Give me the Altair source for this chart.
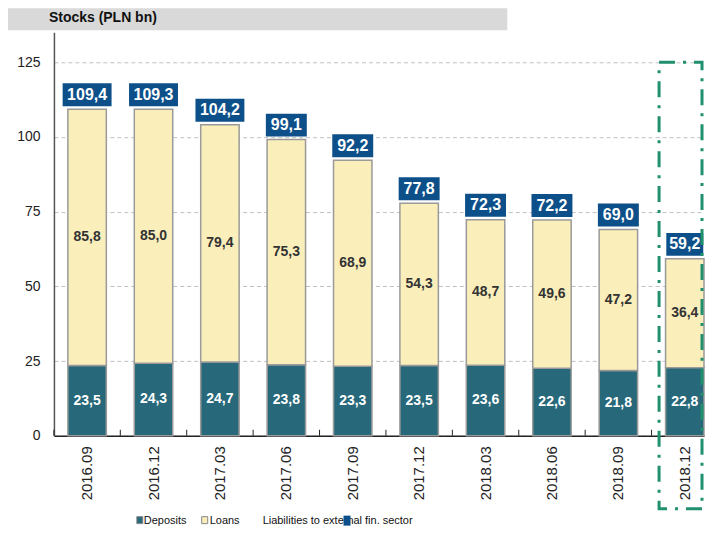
import altair as alt
import pandas as pd

dates = ["2016.09", "2016.12", "2017.03", "2017.06", "2017.09",
         "2017.12", "2018.03", "2018.06", "2018.09", "2018.12"]
deposits = [23.5, 24.3, 24.7, 23.8, 23.3, 23.5, 23.6, 22.6, 21.8, 22.8]
loans = [85.8, 85.0, 79.4, 75.3, 68.9, 54.3, 48.7, 49.6, 47.2, 36.4]
totals = [109.4, 109.3, 104.2, 99.1, 92.2, 77.8, 72.3, 72.2, 69.0, 59.2]
y_ticks = [0, 25, 50, 75, 100, 125]
legend_labels = ["Deposits", "Loans", "Liabilities to external fin. sector"]
title_text = "Stocks (PLN bn)"
last_date = dates[-1]


def fmt(v):
    return f"{v:.1f}".replace(".", ",")


df = pd.DataFrame({
    "date": dates,
    "dep": deposits,
    "loan": loans,
    "total": totals,
})
df["top"] = df["dep"] + df["loan"]
df["dep_mid"] = df["dep"] / 2
df["loan_mid"] = (df["dep"] + df["top"]) / 2
df["dep_lbl"] = df["dep"].map(fmt)
df["loan_lbl"] = df["loan"].map(fmt)
df["tot_lbl"] = df["total"].map(fmt)

DEP_C = "#27697a"
LOAN_C = "#faeebb"
TOT_C = "#0d4f88"
GREEN = "#21906f"
SANS = "Liberation Sans"

xscale = alt.Scale(paddingInner=0.421, paddingOuter=0.105, align=1)
yscale = alt.Scale(domain=[0, 135], nice=False)

X = alt.X("date:N", scale=xscale, sort=dates,
          axis=alt.Axis(title=None, labelAngle=270, labelFontSize=15,
                        labelFont=SANS, labelColor="#222", ticks=False,
                        domainColor="#222", domainWidth=1.5, labelPadding=10,
                        labelAlign="right", labelBaseline="middle"))
Y = alt.Y("dep:Q", scale=yscale,
          axis=alt.Axis(title=None, values=y_ticks, labelFontSize=14,
                        labelFont=SANS, labelColor="#222", ticks=False,
                        labelPadding=14, domainColor="#555", domainWidth=1.5,
                        grid=True, gridDash=[4, 3], gridColor="#c0c0c0",
                        gridWidth=1))

base = alt.Chart(df)
XS = alt.X("date:N", sort=dates)

dep_bar = base.mark_bar(color=DEP_C, stroke="#9a9a9a", strokeWidth=1.5).encode(
    x=X, y=Y)
loan_bar = base.mark_bar(color=LOAN_C, stroke="#9a9a9a", strokeWidth=1.5).encode(
    x=XS, y=alt.Y("top:Q"), y2="dep:Q")

dep_txt = base.mark_text(color="white", fontWeight="bold", fontSize=14,
                         font=SANS, baseline="middle").encode(
    x=XS, y="dep_mid:Q", text="dep_lbl:N")
loan_txt = base.mark_text(color="#333333", fontWeight="bold", fontSize=14,
                          font=SANS, baseline="middle").encode(
    x=XS, y="loan_mid:Q", text="loan_lbl:N")


def box(width, cond):
    return base.transform_filter(cond).mark_bar(
        color=TOT_C, width=width, yOffset=-26, y2Offset=-3).encode(
        x=XS, y="top:Q", y2="top:Q")


box_wide = box(49, "length(datum.tot_lbl) >= 5")
box_mid = box(41, f"length(datum.tot_lbl) < 5 && datum.date != '{last_date}'")
box_last = box(37, f"datum.date == '{last_date}'")

tot_txt = base.mark_text(color="white", fontWeight="bold", fontSize=16,
                         font=SANS, baseline="middle", dy=-14.5).encode(
    x=XS, y="top:Q", text="tot_lbl:N")

ticks = base.mark_rule(color="#222", strokeWidth=1, xOffset=-14).encode(
    x=alt.X("date:N", sort=dates, bandPosition=0),
    y=alt.value(398), y2=alt.value(404))

one = pd.DataFrame({"t": [title_text]})
title_bg = alt.Chart(one).mark_rect(color="#d9d9d9").encode(
    x=alt.value(-46), x2=alt.value(454), y=alt.value(-24), y2=alt.value(-2))
title = alt.Chart(one).mark_text(align="left", baseline="middle",
                                 fontWeight="bold", fontSize=14, font=SANS,
                                 color="#111").encode(
    x=alt.value(-5), y=alt.value(-14), text="t:N")

frame = alt.Chart(one).mark_rect(fill=None, fillOpacity=0, stroke=GREEN,
                                 strokeWidth=3,
                                 strokeDash=[16, 8, 3, 8]).encode(
    x=alt.value(606), x2=alt.value(649), y=alt.value(30), y2=alt.value(477))

leg_y = 489
leg_layers = []
sw_cfg = [(83, DEP_C), (148, LOAN_C)]
for (sx, col) in sw_cfg:
    leg_layers.append(alt.Chart(one).mark_rect(color=col, stroke="#888",
                                               strokeWidth=1).encode(
        x=alt.value(sx), x2=alt.value(sx + 6), y=alt.value(leg_y - 4),
        y2=alt.value(leg_y + 3)))
txt_x = [90, 156, 209]
for lbl, tx in zip(legend_labels, txt_x):
    leg_layers.append(alt.Chart(pd.DataFrame({"t": [lbl]})).mark_text(
        align="left", baseline="middle", fontSize=11, font=SANS,
        color="#111").encode(x=alt.value(tx), y=alt.value(leg_y), text="t:N"))
leg_layers.append(alt.Chart(one).mark_rect(color=TOT_C).encode(
    x=alt.value(290), x2=alt.value(297), y=alt.value(leg_y - 5),
    y2=alt.value(leg_y + 5)))

chart = alt.layer(
    title_bg, title, dep_bar, loan_bar, dep_txt, loan_txt,
    box_wide, box_mid, box_last, tot_txt,
    ticks, frame, *leg_layers
).properties(
    width=651, height=404, padding=0
).configure_view(stroke=None)

chart.save("out.html", embed_options={"renderer": "svg", "actions": False})
